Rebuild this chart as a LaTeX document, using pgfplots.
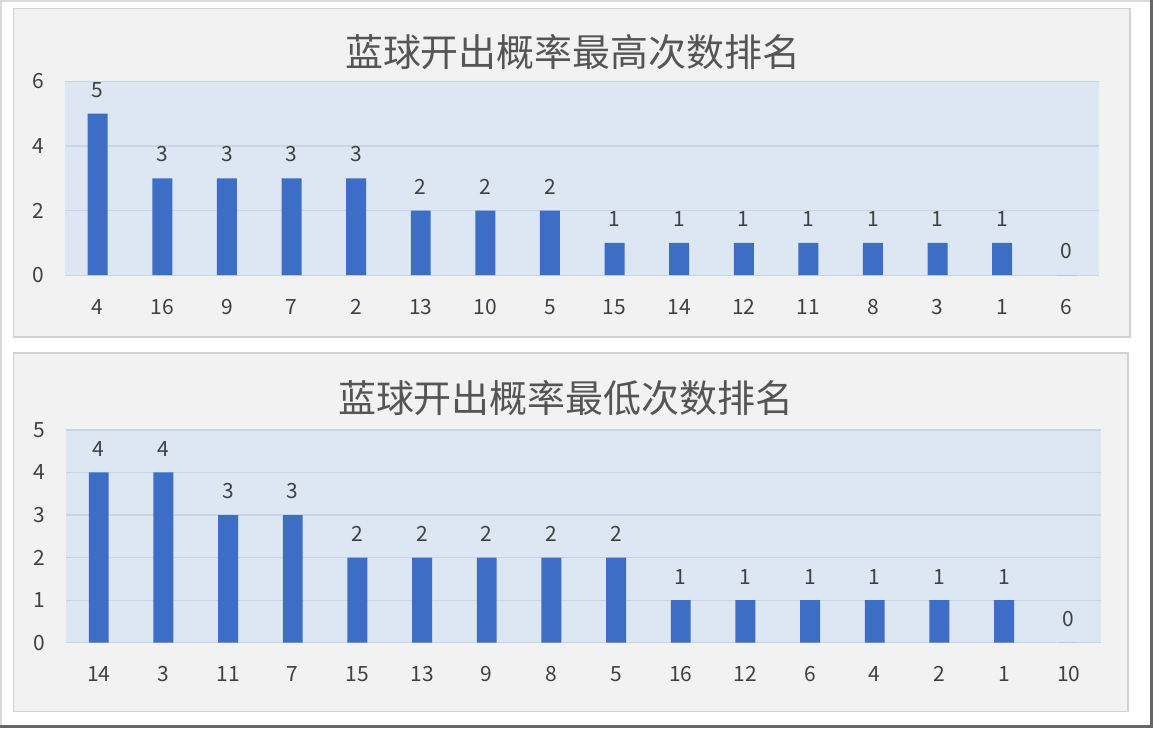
\documentclass[border=0pt]{standalone}
\usepackage{pgfplots}
\pgfplotsset{compat=1.18}
\usepackage{fontspec}
\setmainfont{Noto Sans CJK SC}
\definecolor{barblue}{HTML}{3E6DC5}
\definecolor{plotbg}{HTML}{DDE7F4}
\definecolor{panelbg}{HTML}{F2F2F2}
\definecolor{gridc}{HTML}{C8D5E7}
\definecolor{txt}{HTML}{404040}
\definecolor{ttl}{HTML}{555555}
\pgfplotsset{
  panel/.style={
    scale only axis, anchor=south west,
    xmin=-0.5, xmax=15.5, ymin=0,
    xtick={0,...,15},
    ymajorgrids, grid style={gridc, line width=0.6pt},
    axis line style={draw=none},
    major tick length=0pt,
    axis background/.style={fill=plotbg},
    ybar, bar width=10pt,
    nodes near coords,
    every node near coord/.append style={font=\fontsize{10.5}{12}\selectfont, text=txt, yshift=4.5pt},
    tick label style={font=\fontsize{10.5}{12}\selectfont, text=txt},
    /pgf/number format/assume math mode=true,
    xticklabel style={yshift=-8.5pt},
    yticklabel style={xshift=-7pt},
    clip=false,
  }
}
\begin{document}
\begin{tikzpicture}[x=0.5pt,y=0.5pt]
\fill[white] (0,0) rectangle (1154,728);
\draw[gray!30, line width=1pt] (0.5,0) -- (0.5,727.5) -- (1154,727.5);
\fill[black!60] (1151,0) rectangle (1154,728);
\fill[black!60] (0,0) rectangle (1154,3);
\filldraw[fill=panelbg, draw=black!18, line width=0.8pt] (13,720) rectangle (1131,391);
\filldraw[fill=panelbg, draw=black!18, line width=0.8pt] (13,375) rectangle (1129,16);
\node[font=\fontsize{19}{22}\selectfont, text=ttl] at (573,676) {蓝球开出概率最高次数排名};
\node[font=\fontsize{19}{22}\selectfont, text=ttl] at (566,330) {蓝球开出概率最低次数排名};
\begin{axis}[panel, at={(32.5pt,226.5pt)}, width=517.5pt, height=97pt,
  ymax=6, ytick={0,2,4,6},
  xticklabels={4,16,9,7,2,13,10,5,15,14,12,11,8,3,1,6}]
\addplot[fill=barblue, draw=none] coordinates {
(0,5) (1,3) (2,3) (3,3) (4,3) (5,2) (6,2) (7,2) (8,1) (9,1) (10,1) (11,1) (12,1) (13,1) (14,1) (15,0)};
\end{axis}
\begin{axis}[panel, at={(33pt,42.5pt)}, width=518pt, height=106.5pt,
  ymax=5, ytick={0,1,2,3,4,5},
  xticklabels={14,3,11,7,15,13,9,8,5,16,12,6,4,2,1,10}]
\addplot[fill=barblue, draw=none] coordinates {
(0,4) (1,4) (2,3) (3,3) (4,2) (5,2) (6,2) (7,2) (8,2) (9,1) (10,1) (11,1) (12,1) (13,1) (14,1) (15,0)};
\end{axis}
\end{tikzpicture}
\end{document}
